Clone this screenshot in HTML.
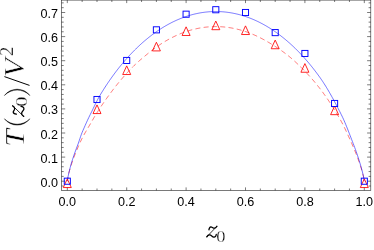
<!DOCTYPE html><html><head><meta charset="utf-8"><style>html,body{margin:0;padding:0;background:#fff;}body{width:374px;height:250px;overflow:hidden;position:relative}</style></head><body><svg width="374" height="250" viewBox="0 0 374 250" style="position:absolute;left:0;top:0;will-change:transform">
<defs><clipPath id="c"><rect x="61.5" y="0.1" width="309.3" height="190.3"/></clipPath></defs>
<g clip-path="url(#c)" fill="none">
<path d="M67.30,181.20 L68.04,176.54 L68.78,173.33 L69.53,170.53 L70.27,167.97 L71.01,165.57 L71.75,163.31 L72.50,161.16 L73.24,159.10 L73.98,157.11 L74.72,155.18 L75.47,153.31 L76.21,151.48 L76.95,149.70 L77.69,147.95 L78.44,146.22 L79.18,144.53 L79.92,142.87 L80.66,141.29 L81.41,139.76 L82.15,138.28 L82.89,136.86 L83.63,135.47 L84.38,134.13 L85.12,132.81 L85.86,131.52 L86.60,130.24 L87.35,128.98 L88.09,127.73 L88.83,126.48 L89.57,125.23 L90.32,123.97 L91.06,122.69 L91.80,121.40 L92.55,120.10 L93.29,118.82 L94.03,117.55 L94.77,116.31 L95.52,115.09 L96.26,113.88 L97.00,112.69 L97.74,111.51 L98.48,110.35 L99.23,109.21 L99.97,108.07 L100.71,106.95 L101.45,105.85 L102.20,104.75 L102.94,103.66 L103.68,102.59 L104.42,101.52 L105.17,100.47 L105.91,99.42 L106.65,98.38 L107.40,97.35 L108.14,96.32 L108.88,95.31 L109.62,94.29 L110.36,93.29 L111.11,92.29 L111.85,91.29 L112.59,90.30 L113.33,89.32 L114.08,88.36 L114.82,87.40 L115.56,86.45 L116.31,85.51 L117.05,84.58 L117.79,83.66 L118.53,82.75 L119.27,81.84 L120.02,80.95 L120.76,80.07 L121.50,79.19 L122.25,78.32 L122.99,77.46 L123.73,76.61 L124.47,75.77 L125.22,74.94 L125.96,74.11 L126.70,73.30 L127.44,72.49 L128.19,71.69 L128.93,70.89 L129.67,70.11 L130.41,69.33 L131.16,68.56 L131.90,67.80 L132.64,67.04 L133.38,66.30 L134.12,65.57 L134.87,64.86 L135.61,64.16 L136.35,63.46 L137.09,62.78 L137.84,62.11 L138.58,61.45 L139.32,60.79 L140.06,60.15 L140.81,59.50 L141.55,58.87 L142.29,58.24 L143.03,57.61 L143.78,56.99 L144.52,56.37 L145.26,55.75 L146.00,55.14 L146.75,54.53 L147.49,53.92 L148.23,53.32 L148.98,52.72 L149.72,52.13 L150.46,51.54 L151.20,50.96 L151.94,50.39 L152.69,49.82 L153.43,49.26 L154.17,48.71 L154.91,48.16 L155.66,47.62 L156.40,47.09 L157.14,46.56 L157.88,46.04 L158.63,45.53 L159.37,45.03 L160.11,44.53 L160.86,44.04 L161.60,43.56 L162.34,43.09 L163.08,42.62 L163.82,42.16 L164.57,41.71 L165.31,41.26 L166.05,40.83 L166.80,40.40 L167.54,39.97 L168.28,39.56 L169.02,39.15 L169.76,38.75 L170.51,38.36 L171.25,37.97 L171.99,37.59 L172.73,37.22 L173.48,36.85 L174.22,36.49 L174.96,36.13 L175.70,35.78 L176.45,35.44 L177.19,35.10 L177.93,34.77 L178.68,34.45 L179.42,34.13 L180.16,33.82 L180.90,33.51 L181.64,33.22 L182.39,32.93 L183.13,32.64 L183.87,32.37 L184.62,32.10 L185.36,31.83 L186.10,31.58 L186.84,31.33 L187.59,31.09 L188.33,30.85 L189.07,30.62 L189.81,30.40 L190.56,30.18 L191.30,29.98 L192.04,29.77 L192.78,29.58 L193.52,29.39 L194.27,29.20 L195.01,29.03 L195.75,28.86 L196.50,28.69 L197.24,28.53 L197.98,28.38 L198.72,28.24 L199.46,28.10 L200.21,27.96 L200.95,27.84 L201.69,27.72 L202.44,27.60 L203.18,27.49 L203.92,27.39 L204.66,27.29 L205.41,27.20 L206.15,27.12 L206.89,27.04 L207.63,26.97 L208.38,26.91 L209.12,26.85 L209.86,26.80 L210.60,26.75 L211.34,26.71 L212.09,26.68 L212.83,26.65 L213.57,26.63 L214.31,26.61 L215.06,26.60 L215.80,26.60 L216.54,26.60 L217.29,26.61 L218.03,26.63 L218.77,26.65 L219.51,26.68 L220.25,26.71 L221.00,26.75 L221.74,26.80 L222.48,26.85 L223.23,26.91 L223.97,26.97 L224.71,27.04 L225.45,27.12 L226.19,27.20 L226.94,27.29 L227.68,27.39 L228.42,27.49 L229.17,27.60 L229.91,27.72 L230.65,27.84 L231.39,27.96 L232.13,28.10 L232.88,28.24 L233.62,28.38 L234.36,28.53 L235.10,28.69 L235.85,28.86 L236.59,29.03 L237.33,29.20 L238.07,29.39 L238.82,29.58 L239.56,29.77 L240.30,29.97 L241.04,30.18 L241.79,30.40 L242.53,30.62 L243.27,30.85 L244.01,31.08 L244.76,31.32 L245.50,31.57 L246.24,31.82 L246.99,32.08 L247.73,32.34 L248.47,32.61 L249.21,32.89 L249.95,33.18 L250.70,33.47 L251.44,33.76 L252.18,34.07 L252.93,34.38 L253.67,34.69 L254.41,35.02 L255.15,35.35 L255.89,35.68 L256.64,36.02 L257.38,36.37 L258.12,36.73 L258.87,37.09 L259.61,37.46 L260.35,37.83 L261.09,38.22 L261.83,38.60 L262.58,39.00 L263.32,39.40 L264.06,39.81 L264.81,40.22 L265.55,40.63 L266.29,41.05 L267.03,41.48 L267.78,41.91 L268.52,42.34 L269.26,42.78 L270.00,43.22 L270.75,43.67 L271.49,44.12 L272.23,44.58 L272.97,45.04 L273.71,45.50 L274.46,45.97 L275.20,46.45 L275.94,46.92 L276.69,47.41 L277.43,47.90 L278.17,48.39 L278.91,48.89 L279.65,49.40 L280.40,49.91 L281.14,50.43 L281.88,50.95 L282.62,51.48 L283.37,52.02 L284.11,52.56 L284.85,53.12 L285.59,53.67 L286.34,54.24 L287.08,54.82 L287.82,55.40 L288.56,55.99 L289.31,56.60 L290.05,57.21 L290.79,57.83 L291.54,58.47 L292.28,59.11 L293.02,59.77 L293.76,60.43 L294.50,61.11 L295.25,61.78 L295.99,62.47 L296.73,63.16 L297.48,63.86 L298.22,64.56 L298.96,65.27 L299.70,65.99 L300.44,66.71 L301.19,67.45 L301.93,68.18 L302.67,68.93 L303.42,69.68 L304.16,70.44 L304.90,71.21 L305.64,71.98 L306.38,72.76 L307.13,73.55 L307.87,74.35 L308.61,75.16 L309.35,75.97 L310.10,76.80 L310.84,77.63 L311.58,78.47 L312.32,79.32 L313.07,80.17 L313.81,81.04 L314.55,81.92 L315.29,82.81 L316.04,83.71 L316.78,84.61 L317.52,85.53 L318.26,86.46 L319.01,87.40 L319.75,88.35 L320.49,89.32 L321.24,90.29 L321.98,91.28 L322.72,92.28 L323.46,93.29 L324.20,94.32 L324.95,95.35 L325.69,96.40 L326.43,97.46 L327.18,98.53 L327.92,99.62 L328.66,100.72 L329.40,101.83 L330.15,102.95 L330.89,104.09 L331.63,105.24 L332.37,106.40 L333.12,107.58 L333.86,108.77 L334.60,109.97 L335.34,111.18 L336.09,112.41 L336.83,113.66 L337.57,114.91 L338.31,116.18 L339.06,117.47 L339.80,118.77 L340.54,120.09 L341.28,121.43 L342.03,122.82 L342.77,124.25 L343.51,125.71 L344.25,127.20 L345.00,128.73 L345.74,130.28 L346.48,131.86 L347.22,133.45 L347.96,135.07 L348.71,136.70 L349.45,138.34 L350.19,139.99 L350.94,141.66 L351.68,143.33 L352.42,145.00 L353.16,146.70 L353.91,148.44 L354.65,150.23 L355.39,152.05 L356.13,153.92 L356.88,155.84 L357.62,157.81 L358.36,159.84 L359.10,161.93 L359.85,164.10 L360.59,166.35 L361.33,168.71 L362.07,171.21 L362.81,173.91 L363.56,176.95 L364.30,181.20" stroke="#ff0000" stroke-width="0.55" stroke-dasharray="5,3.33" stroke-dashoffset="0.65"/>
<path d="M67.30,181.20 L68.04,176.71 L68.78,173.33 L69.53,170.20 L70.27,167.24 L71.01,164.49 L71.75,161.98 L72.50,159.61 L73.24,157.34 L73.98,155.14 L74.72,153.02 L75.47,150.95 L76.21,148.93 L76.95,146.96 L77.69,145.02 L78.44,143.00 L79.18,140.82 L79.92,138.58 L80.66,136.36 L81.41,134.25 L82.15,132.37 L82.89,130.64 L83.63,128.93 L84.38,127.22 L85.12,125.53 L85.86,123.86 L86.60,122.22 L87.35,120.60 L88.09,119.01 L88.83,117.45 L89.57,115.92 L90.32,114.43 L91.06,112.94 L91.80,111.42 L92.55,109.89 L93.29,108.35 L94.03,106.81 L94.77,105.28 L95.52,103.76 L96.26,102.26 L97.00,100.80 L97.74,99.37 L98.48,97.99 L99.23,96.65 L99.97,95.38 L100.71,94.15 L101.45,92.92 L102.20,91.72 L102.94,90.52 L103.68,89.34 L104.42,88.18 L105.17,87.03 L105.91,85.89 L106.65,84.76 L107.40,83.64 L108.14,82.54 L108.88,81.45 L109.62,80.37 L110.36,79.31 L111.11,78.25 L111.85,77.21 L112.59,76.18 L113.33,75.16 L114.08,74.15 L114.82,73.15 L115.56,72.16 L116.31,71.18 L117.05,70.21 L117.79,69.26 L118.53,68.31 L119.27,67.37 L120.02,66.45 L120.76,65.53 L121.50,64.63 L122.25,63.73 L122.99,62.84 L123.73,61.96 L124.47,61.10 L125.22,60.24 L125.96,59.39 L126.70,58.55 L127.44,57.71 L128.19,56.89 L128.93,56.08 L129.67,55.27 L130.41,54.48 L131.16,53.69 L131.90,52.91 L132.64,52.14 L133.38,51.38 L134.12,50.63 L134.87,49.88 L135.61,49.15 L136.35,48.42 L137.09,47.70 L137.84,46.99 L138.58,46.29 L139.32,45.59 L140.06,44.91 L140.81,44.23 L141.55,43.56 L142.29,42.89 L143.03,42.24 L143.78,41.59 L144.52,40.95 L145.26,40.32 L146.00,39.69 L146.75,39.08 L147.49,38.47 L148.23,37.87 L148.98,37.27 L149.72,36.68 L150.46,36.11 L151.20,35.53 L151.94,34.97 L152.69,34.41 L153.43,33.86 L154.17,33.32 L154.91,32.78 L155.66,32.26 L156.40,31.73 L157.14,31.22 L157.88,30.71 L158.63,30.21 L159.37,29.72 L160.11,29.24 L160.86,28.76 L161.60,28.29 L162.34,27.82 L163.08,27.36 L163.82,26.91 L164.57,26.47 L165.31,26.03 L166.05,25.60 L166.80,25.18 L167.54,24.76 L168.28,24.35 L169.02,23.95 L169.76,23.55 L170.51,23.16 L171.25,22.78 L171.99,22.40 L172.73,22.03 L173.48,21.67 L174.22,21.31 L174.96,20.96 L175.70,20.62 L176.45,20.28 L177.19,19.95 L177.93,19.63 L178.68,19.31 L179.42,19.00 L180.16,18.70 L180.90,18.40 L181.64,18.11 L182.39,17.82 L183.13,17.55 L183.87,17.27 L184.62,17.01 L185.36,16.75 L186.10,16.50 L186.84,16.25 L187.59,16.01 L188.33,15.78 L189.07,15.55 L189.81,15.33 L190.56,15.11 L191.30,14.91 L192.04,14.70 L192.78,14.51 L193.52,14.32 L194.27,14.14 L195.01,13.96 L195.75,13.79 L196.50,13.63 L197.24,13.47 L197.98,13.32 L198.72,13.17 L199.46,13.03 L200.21,12.90 L200.95,12.77 L201.69,12.65 L202.44,12.54 L203.18,12.43 L203.92,12.33 L204.66,12.23 L205.41,12.14 L206.15,12.06 L206.89,11.98 L207.63,11.91 L208.38,11.84 L209.12,11.79 L209.86,11.73 L210.60,11.69 L211.34,11.65 L212.09,11.61 L212.83,11.59 L213.57,11.56 L214.31,11.55 L215.06,11.54 L215.80,11.54 L216.54,11.54 L217.29,11.55 L218.03,11.56 L218.77,11.59 L219.51,11.61 L220.25,11.65 L221.00,11.69 L221.74,11.73 L222.48,11.79 L223.23,11.84 L223.97,11.91 L224.71,11.98 L225.45,12.06 L226.19,12.14 L226.94,12.23 L227.68,12.33 L228.42,12.43 L229.17,12.54 L229.91,12.65 L230.65,12.77 L231.39,12.90 L232.13,13.03 L232.88,13.17 L233.62,13.32 L234.36,13.47 L235.10,13.63 L235.85,13.79 L236.59,13.96 L237.33,14.14 L238.07,14.32 L238.82,14.51 L239.56,14.70 L240.30,14.91 L241.04,15.11 L241.79,15.33 L242.53,15.55 L243.27,15.78 L244.01,16.01 L244.76,16.25 L245.50,16.50 L246.24,16.75 L246.99,17.01 L247.73,17.27 L248.47,17.55 L249.21,17.82 L249.95,18.11 L250.70,18.40 L251.44,18.70 L252.18,19.00 L252.93,19.31 L253.67,19.63 L254.41,19.95 L255.15,20.28 L255.89,20.62 L256.64,20.96 L257.38,21.31 L258.12,21.67 L258.87,22.03 L259.61,22.40 L260.35,22.78 L261.09,23.16 L261.83,23.55 L262.58,23.95 L263.32,24.35 L264.06,24.76 L264.81,25.18 L265.55,25.60 L266.29,26.03 L267.03,26.47 L267.78,26.91 L268.52,27.36 L269.26,27.82 L270.00,28.29 L270.75,28.76 L271.49,29.24 L272.23,29.72 L272.97,30.21 L273.71,30.71 L274.46,31.22 L275.20,31.73 L275.94,32.26 L276.69,32.78 L277.43,33.32 L278.17,33.86 L278.91,34.41 L279.65,34.97 L280.40,35.53 L281.14,36.11 L281.88,36.68 L282.62,37.27 L283.37,37.87 L284.11,38.47 L284.85,39.08 L285.59,39.69 L286.34,40.32 L287.08,40.95 L287.82,41.59 L288.56,42.24 L289.31,42.89 L290.05,43.56 L290.79,44.23 L291.54,44.91 L292.28,45.59 L293.02,46.29 L293.76,46.99 L294.50,47.70 L295.25,48.42 L295.99,49.15 L296.73,49.88 L297.48,50.63 L298.22,51.38 L298.96,52.14 L299.70,52.91 L300.44,53.69 L301.19,54.48 L301.93,55.27 L302.67,56.08 L303.42,56.89 L304.16,57.71 L304.90,58.55 L305.64,59.39 L306.38,60.24 L307.13,61.10 L307.87,61.96 L308.61,62.84 L309.35,63.73 L310.10,64.63 L310.84,65.53 L311.58,66.45 L312.32,67.37 L313.07,68.31 L313.81,69.26 L314.55,70.21 L315.29,71.18 L316.04,72.16 L316.78,73.15 L317.52,74.15 L318.26,75.16 L319.01,76.18 L319.75,77.21 L320.49,78.26 L321.24,79.33 L321.98,80.42 L322.72,81.53 L323.46,82.66 L324.20,83.81 L324.95,84.98 L325.69,86.16 L326.43,87.37 L327.18,88.60 L327.92,89.84 L328.66,91.10 L329.40,92.37 L330.15,93.67 L330.89,94.97 L331.63,96.30 L332.37,97.63 L333.12,98.98 L333.86,100.35 L334.60,101.72 L335.34,103.11 L336.09,104.51 L336.83,105.93 L337.57,107.35 L338.31,108.78 L339.06,110.22 L339.80,111.67 L340.54,113.13 L341.28,114.60 L342.03,116.10 L342.77,117.66 L343.51,119.29 L344.25,120.97 L345.00,122.71 L345.74,124.48 L346.48,126.30 L347.22,128.15 L347.96,130.02 L348.71,131.92 L349.45,133.83 L350.19,135.75 L350.94,137.68 L351.68,139.61 L352.42,141.54 L353.16,143.46 L353.91,145.38 L354.65,147.33 L355.39,149.35 L356.13,151.42 L356.88,153.57 L357.62,155.77 L358.36,158.04 L359.10,160.37 L359.85,162.77 L360.59,165.26 L361.33,167.85 L362.07,170.58 L362.81,173.49 L363.56,176.74 L364.30,181.20" stroke="#0000ff" stroke-width="0.55"/>
</g>
<rect x="61.5" y="0.1" width="309.3" height="190.3" fill="none" stroke="#222" stroke-width="0.6"/>
<path d="M67.30,190.40v-3.00M67.30,0.10v3.00M82.15,190.40v-1.90M82.15,0.10v1.90M97.00,190.40v-1.90M97.00,0.10v1.90M111.85,190.40v-1.90M111.85,0.10v1.90M126.70,190.40v-3.00M126.70,0.10v3.00M141.55,190.40v-1.90M141.55,0.10v1.90M156.40,190.40v-1.90M156.40,0.10v1.90M171.25,190.40v-1.90M171.25,0.10v1.90M186.10,190.40v-3.00M186.10,0.10v3.00M200.95,190.40v-1.90M200.95,0.10v1.90M215.80,190.40v-1.90M215.80,0.10v1.90M230.65,190.40v-1.90M230.65,0.10v1.90M245.50,190.40v-3.00M245.50,0.10v3.00M260.35,190.40v-1.90M260.35,0.10v1.90M275.20,190.40v-1.90M275.20,0.10v1.90M290.05,190.40v-1.90M290.05,0.10v1.90M304.90,190.40v-3.00M304.90,0.10v3.00M319.75,190.40v-1.90M319.75,0.10v1.90M334.60,190.40v-1.90M334.60,0.10v1.90M349.45,190.40v-1.90M349.45,0.10v1.90M364.30,190.40v-3.00M364.30,0.10v3.00M61.50,186.02h2.20M370.80,186.02h-2.20M61.50,181.20h3.70M370.80,181.20h-3.70M61.50,176.38h2.20M370.80,176.38h-2.20M61.50,171.56h2.20M370.80,171.56h-2.20M61.50,166.74h2.20M370.80,166.74h-2.20M61.50,161.92h2.20M370.80,161.92h-2.20M61.50,157.10h3.70M370.80,157.10h-3.70M61.50,152.28h2.20M370.80,152.28h-2.20M61.50,147.46h2.20M370.80,147.46h-2.20M61.50,142.64h2.20M370.80,142.64h-2.20M61.50,137.82h2.20M370.80,137.82h-2.20M61.50,133.00h3.70M370.80,133.00h-3.70M61.50,128.18h2.20M370.80,128.18h-2.20M61.50,123.36h2.20M370.80,123.36h-2.20M61.50,118.54h2.20M370.80,118.54h-2.20M61.50,113.72h2.20M370.80,113.72h-2.20M61.50,108.90h3.70M370.80,108.90h-3.70M61.50,104.08h2.20M370.80,104.08h-2.20M61.50,99.26h2.20M370.80,99.26h-2.20M61.50,94.44h2.20M370.80,94.44h-2.20M61.50,89.62h2.20M370.80,89.62h-2.20M61.50,84.80h3.70M370.80,84.80h-3.70M61.50,79.98h2.20M370.80,79.98h-2.20M61.50,75.16h2.20M370.80,75.16h-2.20M61.50,70.34h2.20M370.80,70.34h-2.20M61.50,65.52h2.20M370.80,65.52h-2.20M61.50,60.70h3.70M370.80,60.70h-3.70M61.50,55.88h2.20M370.80,55.88h-2.20M61.50,51.06h2.20M370.80,51.06h-2.20M61.50,46.24h2.20M370.80,46.24h-2.20M61.50,41.42h2.20M370.80,41.42h-2.20M61.50,36.60h3.70M370.80,36.60h-3.70M61.50,31.78h2.20M370.80,31.78h-2.20M61.50,26.96h2.20M370.80,26.96h-2.20M61.50,22.14h2.20M370.80,22.14h-2.20M61.50,17.32h2.20M370.80,17.32h-2.20M61.50,12.50h3.70M370.80,12.50h-3.70M61.50,7.68h2.20M370.80,7.68h-2.20M61.50,2.86h2.20M370.80,2.86h-2.20" stroke="#222" stroke-width="0.6" fill="none"/>
<path d="M67.30,178.91 L71.30,187.56 L63.30,187.56Z" fill="none" stroke="#ff0000" stroke-width="0.85" stroke-linejoin="miter"/>
<path d="M97.00,104.92 L101.00,113.57 L93.00,113.57Z" fill="none" stroke="#ff0000" stroke-width="0.85" stroke-linejoin="miter"/>
<path d="M126.70,65.88 L130.70,74.53 L122.70,74.53Z" fill="none" stroke="#ff0000" stroke-width="0.85" stroke-linejoin="miter"/>
<path d="M156.40,42.26 L160.40,50.91 L152.40,50.91Z" fill="none" stroke="#ff0000" stroke-width="0.85" stroke-linejoin="miter"/>
<path d="M186.10,26.84 L190.10,35.49 L182.10,35.49Z" fill="none" stroke="#ff0000" stroke-width="0.85" stroke-linejoin="miter"/>
<path d="M215.80,21.05 L219.80,29.70 L211.80,29.70Z" fill="none" stroke="#ff0000" stroke-width="0.85" stroke-linejoin="miter"/>
<path d="M245.50,25.87 L249.50,34.52 L241.50,34.52Z" fill="none" stroke="#ff0000" stroke-width="0.85" stroke-linejoin="miter"/>
<path d="M275.20,40.09 L279.20,48.74 L271.20,48.74Z" fill="none" stroke="#ff0000" stroke-width="0.85" stroke-linejoin="miter"/>
<path d="M304.90,63.59 L308.90,72.24 L300.90,72.24Z" fill="none" stroke="#ff0000" stroke-width="0.85" stroke-linejoin="miter"/>
<path d="M334.60,106.01 L338.60,114.66 L330.60,114.66Z" fill="none" stroke="#ff0000" stroke-width="0.85" stroke-linejoin="miter"/>
<path d="M364.30,178.91 L368.30,187.56 L360.30,187.56Z" fill="none" stroke="#ff0000" stroke-width="0.85" stroke-linejoin="miter"/>
<rect x="64.25" y="178.15" width="6.1" height="6.1" fill="none" stroke="#0000ff" stroke-width="0.95"/>
<rect x="93.95" y="96.45" width="6.1" height="6.1" fill="none" stroke="#0000ff" stroke-width="0.95"/>
<rect x="123.65" y="57.41" width="6.1" height="6.1" fill="none" stroke="#0000ff" stroke-width="0.95"/>
<rect x="153.35" y="26.80" width="6.1" height="6.1" fill="none" stroke="#0000ff" stroke-width="0.95"/>
<rect x="183.05" y="11.14" width="6.1" height="6.1" fill="none" stroke="#0000ff" stroke-width="0.95"/>
<rect x="212.75" y="6.68" width="6.1" height="6.1" fill="none" stroke="#0000ff" stroke-width="0.95"/>
<rect x="242.45" y="9.45" width="6.1" height="6.1" fill="none" stroke="#0000ff" stroke-width="0.95"/>
<rect x="272.15" y="29.57" width="6.1" height="6.1" fill="none" stroke="#0000ff" stroke-width="0.95"/>
<rect x="301.85" y="50.42" width="6.1" height="6.1" fill="none" stroke="#0000ff" stroke-width="0.95"/>
<rect x="331.55" y="100.43" width="6.1" height="6.1" fill="none" stroke="#0000ff" stroke-width="0.95"/>
<rect x="361.25" y="178.15" width="6.1" height="6.1" fill="none" stroke="#0000ff" stroke-width="0.95"/>
<g font-family="Liberation Sans, sans-serif" font-size="12.6" fill="#000" opacity="0.999">
<text x="67.30" y="206.2" text-anchor="middle">0.0</text>
<text x="126.70" y="206.2" text-anchor="middle">0.2</text>
<text x="186.10" y="206.2" text-anchor="middle">0.4</text>
<text x="245.50" y="206.2" text-anchor="middle">0.6</text>
<text x="304.90" y="206.2" text-anchor="middle">0.8</text>
<text x="364.30" y="206.2" text-anchor="middle">1.0</text>
<text x="57.9" y="186.70" text-anchor="end">0.0</text>
<text x="57.9" y="162.60" text-anchor="end">0.1</text>
<text x="57.9" y="138.50" text-anchor="end">0.2</text>
<text x="57.9" y="114.40" text-anchor="end">0.3</text>
<text x="57.9" y="90.30" text-anchor="end">0.4</text>
<text x="57.9" y="66.20" text-anchor="end">0.5</text>
<text x="57.9" y="42.10" text-anchor="end">0.6</text>
<text x="57.9" y="18.00" text-anchor="end">0.7</text>
</g>
<g font-family="Liberation Serif, serif" opacity="0.999" stroke="#fff" stroke-width="1.6">
<text transform="translate(24.15,146.78) rotate(-90) scale(0.3127,0.2831)" font-size="100" font-style="italic" fill="#000">T</text>
<text transform="translate(27.48,106.77) rotate(-90) scale(0.2048,0.1719)" font-size="100" font-style="normal" fill="#000">0</text>
<text transform="translate(24.02,77.14) rotate(-90) scale(0.3077,0.2857)" font-size="100" font-style="italic" fill="#000">V</text>
<text transform="translate(13.45,55.89) rotate(-90) scale(0.1875,0.1788)" font-size="100" font-style="normal" fill="#000">2</text>
<text transform="translate(216.31,241.68) scale(0.1857,0.1748)" font-size="100" font-style="normal" fill="#000">0</text>
</g>
<g fill="none" stroke="#000" stroke-linecap="round" stroke-linejoin="round"><path d="M208.9,229.8 C209.2,228.0 209.9,226.9 210.9,226.8 C212.0,226.7 212.8,228.2 214.2,228.2 C215.4,228.2 216.3,227.3 216.9,226.2 M206.8,236.9 C207.5,235.5 208.6,234.8 209.8,234.9 C211.2,235.0 212.2,236.8 213.8,237.1 C215.3,237.3 216.1,236.0 216.3,234.3" stroke-width="1.25"/><path d="M216.9,226.3 L206.8,236.8" stroke-width="0.8"/></g>
<g transform="matrix(0.0000,-1.0467,1.0348,0.0000,-221.447,332.840)" fill="none" stroke="#000" stroke-linecap="round" stroke-linejoin="round"><path d="M208.9,229.8 C209.2,228.0 209.9,226.9 210.9,226.8 C212.0,226.7 212.8,228.2 214.2,228.2 C215.4,228.2 216.3,227.3 216.9,226.2 M206.8,236.9 C207.5,235.5 208.6,234.8 209.8,234.9 C211.2,235.0 212.2,236.8 213.8,237.1 C215.3,237.3 216.1,236.0 216.3,234.3" stroke-width="1.25"/><path d="M216.9,226.3 L206.8,236.8" stroke-width="0.8"/></g>
<path d="M4.4,118.8 A16.05,16.05 0 0 0 29.9,118.8 A17.76,17.76 0 0 1 4.4,118.8Z" fill="#000" stroke="#000" stroke-width="0.45"/>
<path d="M4.4,95.5 A16.05,16.05 0 0 1 29.9,95.5 A17.76,17.76 0 0 0 4.4,95.5Z" fill="#000" stroke="#000" stroke-width="0.45"/>
<path d="M4.4,76.6 L29.5,85.4" stroke="#000" stroke-width="1.0" fill="none"/>
</svg></body></html>
